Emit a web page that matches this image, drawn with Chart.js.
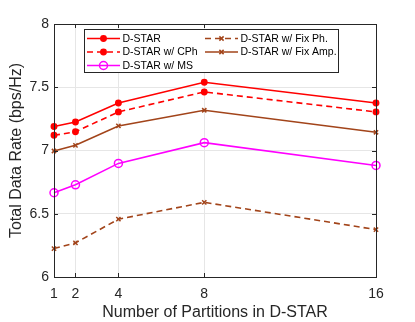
<!DOCTYPE html>
<html><head><meta charset="utf-8">
<script src="https://cdn.jsdelivr.net/npm/chart.js@4"></script>
<style>html,body{margin:0;padding:0;background:#fff}</style>
</head><body>
<canvas id="c" width="415" height="322" style="width:415px;height:322px;display:block"></canvas>
<script>
const partitions = [1, 2, 4, 8, 16];
const dstar = [7.19, 7.225, 7.375, 7.54, 7.375];
const dstarCPh = [7.12, 7.148, 7.305, 7.463, 7.305];
const dstarMS = [6.666, 6.729, 6.898, 7.062, 6.882];
const dstarFixPh = [6.225, 6.27, 6.457, 6.59, 6.375];
const dstarFixAmp = [6.996, 7.041, 7.194, 7.318, 7.144];
const yTicks = [6, 6.5, 7, 7.5, 8];
const seriesNames = ['D-STAR', 'D-STAR w/ CPh', 'D-STAR w/ MS', 'D-STAR w/ Fix Ph.', 'D-STAR w/ Fix Amp.'];

const RED = '#ff0000', MAG = '#ff00ff', BROWN = '#a2441a';
const FONT = "'Liberation Sans', Arial, Helvetica, sans-serif";
const pts = arr => arr.map((v, i) => ({x: partitions[i], y: v}));

function ds(label, data, color, dash, style, radius, fill) {
  return {
    label, data: pts(data), borderColor: color, backgroundColor: fill,
    borderDash: dash, borderWidth: 1.6, pointStyle: style, pointRadius: radius,
    pointHoverRadius: radius, pointBorderColor: color, pointBackgroundColor: fill,
    pointBorderWidth: 1.5, tension: 0, clip: false, fill: false
  };
}

const datasets = [
  ds(seriesNames[0], dstar, RED, [], 'circle', 2.7, RED),
  ds(seriesNames[1], dstarCPh, RED, [6, 4], 'circle', 2.7, RED),
  ds(seriesNames[2], dstarMS, MAG, [], 'circle', 4, 'rgba(0,0,0,0)'),
  ds(seriesNames[3], dstarFixPh, BROWN, [6, 4], 'crossRot', 3, BROWN),
  ds(seriesNames[4], dstarFixAmp, BROWN, [], 'crossRot', 3, BROWN)
];

const framePlugin = {
  id: 'frame',
  afterDraw(chart) {
    const {ctx, chartArea: a, scales: {x, y}} = chart;
    ctx.save();
    ctx.strokeStyle = '#262626';
    ctx.lineWidth = 1;
    ctx.setLineDash([]);
    ctx.beginPath();
    ctx.rect(Math.round(a.left) + 0.5, Math.round(a.top) + 0.5, Math.round(a.right - a.left), Math.round(a.bottom - a.top));
    ctx.stroke();
    const tl = 4;
    ctx.beginPath();
    partitions.forEach(v => {
      const px = Math.round(x.getPixelForValue(v)) + 0.5;
      ctx.moveTo(px, a.bottom); ctx.lineTo(px, a.bottom - tl);
      ctx.moveTo(px, a.top); ctx.lineTo(px, a.top + tl);
    });
    yTicks.forEach(v => {
      const py = Math.round(y.getPixelForValue(v)) + 0.5;
      ctx.moveTo(a.left, py); ctx.lineTo(a.left + tl, py);
      ctx.moveTo(a.right, py); ctx.lineTo(a.right - tl, py);
    });
    ctx.stroke();

    // legend box
    const bx = 84.5, by = 29.5, bw = 254, bh = 43;
    ctx.fillStyle = '#fff';
    ctx.fillRect(bx, by, bw, bh);
    ctx.strokeStyle = '#262626';
    ctx.strokeRect(bx, by, bw, bh);
    const items = [
      [0, 87, 38.5], [3, 205, 38.5],
      [1, 87, 52], [4, 205, 52],
      [2, 87, 65.5]
    ];
    ctx.font = '10.5px ' + FONT;
    ctx.textBaseline = 'middle';
    ctx.textAlign = 'left';
    items.forEach(([i, lx, ly]) => {
      const d = chart.data.datasets[i];
      ctx.strokeStyle = d.borderColor;
      ctx.lineWidth = d.borderWidth;
      ctx.setLineDash(d.borderDash);
      ctx.beginPath(); ctx.moveTo(lx, ly); ctx.lineTo(lx + 33, ly); ctx.stroke();
      ctx.setLineDash([]);
      ctx.lineWidth = d.pointBorderWidth;
      ctx.fillStyle = d.pointBackgroundColor;
      Chart.helpers.drawPoint(ctx, {pointStyle: d.pointStyle, radius: d.pointRadius, borderWidth: d.pointBorderWidth, rotation: 0}, lx + 16.5, ly);
      ctx.fillStyle = '#000';
      ctx.fillText(d.label, lx + 35.5, ly + 0.5);
    });
    ctx.restore();
  }
};

new Chart(document.getElementById('c'), {
  type: 'line',
  data: {datasets},
  plugins: [framePlugin],
  options: {
    responsive: false,
    animation: false,
    devicePixelRatio: 1,
    layout: {padding: {top: 24, right: 39, left: 0, bottom: 0}},
    plugins: {legend: {display: false}, tooltip: {enabled: false}},
    elements: {line: {borderCapStyle: 'butt'}},
    scales: {
      x: {
        type: 'linear', min: 1, max: 16,
        afterBuildTicks: s => { s.ticks = partitions.map(v => ({value: v})); },
        afterFit: s => { s.height = 45; },
        grid: {color: '#e6e6e6', drawTicks: false},
        border: {display: true, color: '#262626'},
        ticks: {font: {family: FONT, size: 14}, color: '#262626', padding: 9, maxRotation: 0, autoSkip: false},
        title: {display: true, text: 'Number of Partitions in D-STAR', font: {family: FONT, size: 16}, color: '#262626', padding: {top: 0, bottom: 0}}
      },
      y: {
        type: 'linear', min: 6, max: 8,
        afterBuildTicks: s => { s.ticks = yTicks.map(v => ({value: v})); },
        afterFit: s => { s.width = 54; },
        grid: {color: '#e6e6e6', drawTicks: false},
        border: {display: true, color: '#262626'},
        ticks: {font: {family: FONT, size: 14}, color: '#262626', padding: 5, callback: v => String(v)},
        title: {display: true, text: 'Total Data Rate (bps/Hz)', font: {family: FONT, size: 16}, color: '#262626', padding: {top: 7, bottom: 0}}
      }
    }
  }
});
</script>
</body></html>
